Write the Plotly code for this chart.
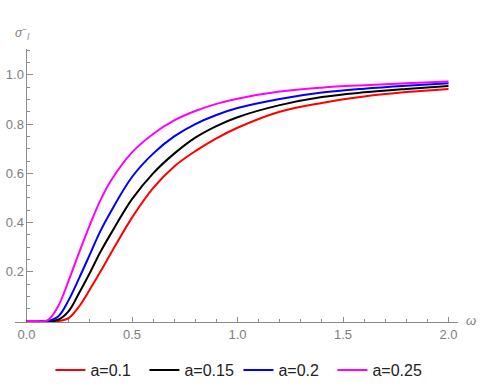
import plotly.graph_objects as go

# frequency grid (omega)
omega = [0, 0.05, 0.1, 0.15, 0.2, 0.25, 0.3, 0.35, 0.4, 0.5, 0.6, 0.7, 0.8, 0.9, 1.0, 1.2, 1.4, 1.6, 1.8, 2.0]

sigma_a010 = [0, 0, 0, 0.0, 0.012, 0.06, 0.128, 0.2, 0.275, 0.42, 0.54, 0.628, 0.69, 0.742, 0.785, 0.85, 0.886, 0.912, 0.93, 0.943]
sigma_a015 = [0, 0, 0, 0.005, 0.04, 0.115, 0.195, 0.28, 0.355, 0.495, 0.60, 0.68, 0.745, 0.792, 0.828, 0.877, 0.91, 0.929, 0.943, 0.955]
sigma_a020 = [0, 0, 0, 0.018, 0.085, 0.175, 0.27, 0.365, 0.445, 0.585, 0.68, 0.75, 0.80, 0.837, 0.865, 0.902, 0.928, 0.944, 0.956, 0.966]
sigma_a025 = [0, 0, 0.003, 0.06, 0.165, 0.28, 0.39, 0.49, 0.57, 0.685, 0.76, 0.815, 0.853, 0.882, 0.903, 0.932, 0.948, 0.958, 0.966, 0.973]

series = [
    ("a=0.1", sigma_a010, "#ff0000"),
    ("a=0.15", sigma_a015, "#000000"),
    ("a=0.2", sigma_a020, "#0000ff"),
    ("a=0.25", sigma_a025, "#ff00ff"),
]

x_ticks = [0, 0.5, 1.0, 1.5, 2.0]
y_ticks = [0.2, 0.4, 0.6, 0.8, 1.0]

x_min, x_max = -0.0545, 2.045
axis_grey = "#8c8c8c"
label_grey = "#7d7d7d"

fig = go.Figure()
for name, vals, col in series:
    fig.add_trace(go.Scatter(
        x=omega, y=vals, name=name, mode="lines",
        line=dict(color=col, width=2, shape="spline", smoothing=1.0),
    ))

fig.update_layout(
    width=480, height=389,
    margin=dict(l=15, r=22, t=49, b=67, autoexpand=False),
    paper_bgcolor="white", plot_bgcolor="white",
    font=dict(family="Liberation Sans, Arial, sans-serif", size=12, color=label_grey),
    showlegend=True,
    legend=dict(
        orientation="h", x=0.08, xanchor="left", y=-0.176, yanchor="middle",
        entrywidth=49, entrywidthmode="pixels",
        font=dict(size=16, color="#222222"), bgcolor="rgba(0,0,0,0)",
    ),
)

fig.update_xaxes(
    range=[x_min, x_max], showgrid=False, zeroline=False, automargin=False,
    showline=True, linecolor=axis_grey, linewidth=1,
    ticks="inside", ticklen=5, tickcolor=axis_grey, tickwidth=1,
    tickvals=x_ticks, tickformat=".1f",
    minor=dict(ticks="inside", ticklen=3, tickcolor=axis_grey, dtick=0.1, tick0=0, showgrid=False),
    layer="below traces",
    tickfont=dict(size=13, color=label_grey),
)
fig.update_yaxes(
    range=[-0.004, 1.105], showgrid=False, zeroline=False, automargin=False,
    anchor="free", position=(0 - x_min) / (x_max - x_min),
    showline=True, linecolor=axis_grey, linewidth=1,
    ticks="inside", ticklen=6, tickcolor=axis_grey, tickwidth=1,
    tickvals=y_ticks, tickformat=".1f",
    minor=dict(ticks="inside", ticklen=3, tickcolor=axis_grey, dtick=0.05, tick0=0, showgrid=False),
    layer="below traces",
    tickfont=dict(size=13, color=label_grey),
)

# axis labels at the ends of the axes
fig.add_annotation(
    x=0.018, y=1.06, xref="paper", yref="paper", showarrow=False,
    text="<i>σ</i><sup>−</sup><sub><i>l</i></sub>",
    font=dict(size=12, color=label_grey), xanchor="center", yanchor="middle",
)
fig.add_annotation(
    x=1.029, y=0.005, xref="paper", yref="paper", showarrow=False,
    text="<i>ω</i>", font=dict(size=13, color=label_grey),
    xanchor="center", yanchor="middle",
)

# drop the browser's default 8px body margin so the figure sits at the page corner
fig.write_html(
    "out.html",
    config={"displayModeBar": False},
    post_script="document.body.style.margin='0';",
)
